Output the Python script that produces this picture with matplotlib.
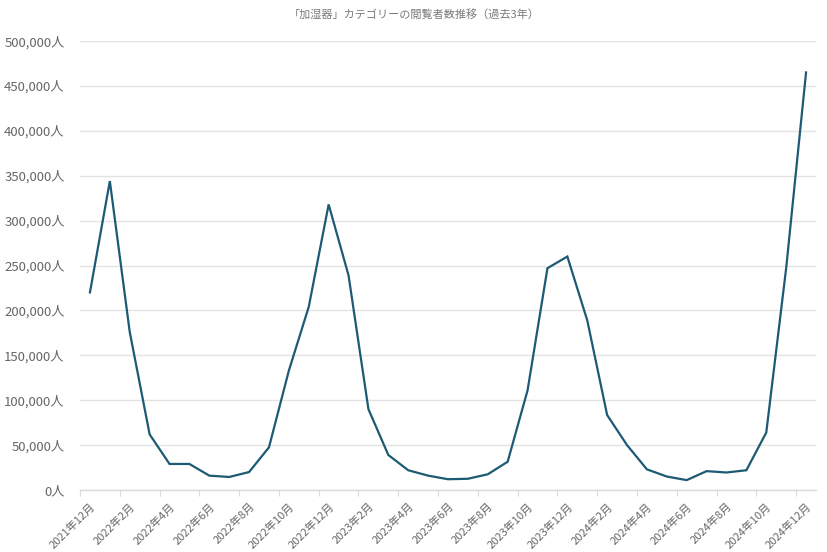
import matplotlib
matplotlib.use("Agg")
import matplotlib.pyplot as plt
import numpy as np

plt.rcParams['font.family'] = ['Noto Sans CJK JP', 'DejaVu Sans']

title = "「加湿器」カテゴリーの閲覧者数推移（過去3年）"

months = []
y, m = 2021, 12
for _ in range(37):
    months.append(f"{y}年{m}月")
    m += 1
    if m > 12:
        m = 1
        y += 1

viewers = [220000, 344000, 176000, 62000, 29000, 29000, 16000, 14500, 20000, 47500,
           133000, 204000, 318000, 239000, 90000, 39000, 22000, 16000, 12000, 12500,
           17500, 31500, 111000, 247000, 260000, 189000, 83500, 50000, 23000, 15000,
           11000, 21000, 19500, 22000, 64000, 247000, 465000]

yticks = list(range(0, 500001, 50000))
ytick_labels = [f"{v:,}人" for v in yticks]

fig = plt.figure(figsize=(8.28, 5.52), dpi=100)
ax = fig.add_axes([80/828, 1-490/552, 736/828, 449/552])

x = np.arange(len(viewers))
ax.plot(x, viewers, color='#1d5a73', linewidth=1.6, solid_joinstyle='miter')

ax.set_xlim(-0.5, len(viewers) - 0.5)
ax.set_ylim(0, 500000)

ax.set_yticks(yticks)
ax.set_yticklabels(ytick_labels)
ax.grid(axis='y', color='#e3e3e3', linewidth=1)
ax.set_axisbelow(True)

ax.set_xticks(x[::2])
ax.set_xticklabels(months[::2], rotation=45, ha='right', va='top', rotation_mode='anchor')
ax.set_xticks(np.arange(-0.5, len(viewers) - 0.5, 2), minor=True)
ax.tick_params(axis='x', which='major', length=0, pad=8, labelsize=8, labelcolor='#666666')
ax.tick_params(axis='x', which='minor', length=4, width=0.8, color='#d9d9d9')
ax.tick_params(axis='y', length=0, pad=11, labelsize=9.5, labelcolor='#666666')

for s in ['top', 'right', 'left']:
    ax.spines[s].set_visible(False)
ax.spines['bottom'].set_color('#d9d9d9')
ax.spines['bottom'].set_linewidth(1)

fig.text(0.5, 1-14/552, title, ha='center', va='center', fontsize=8, color='#7a7a7a')

fig.savefig("out.png", dpi=100)
